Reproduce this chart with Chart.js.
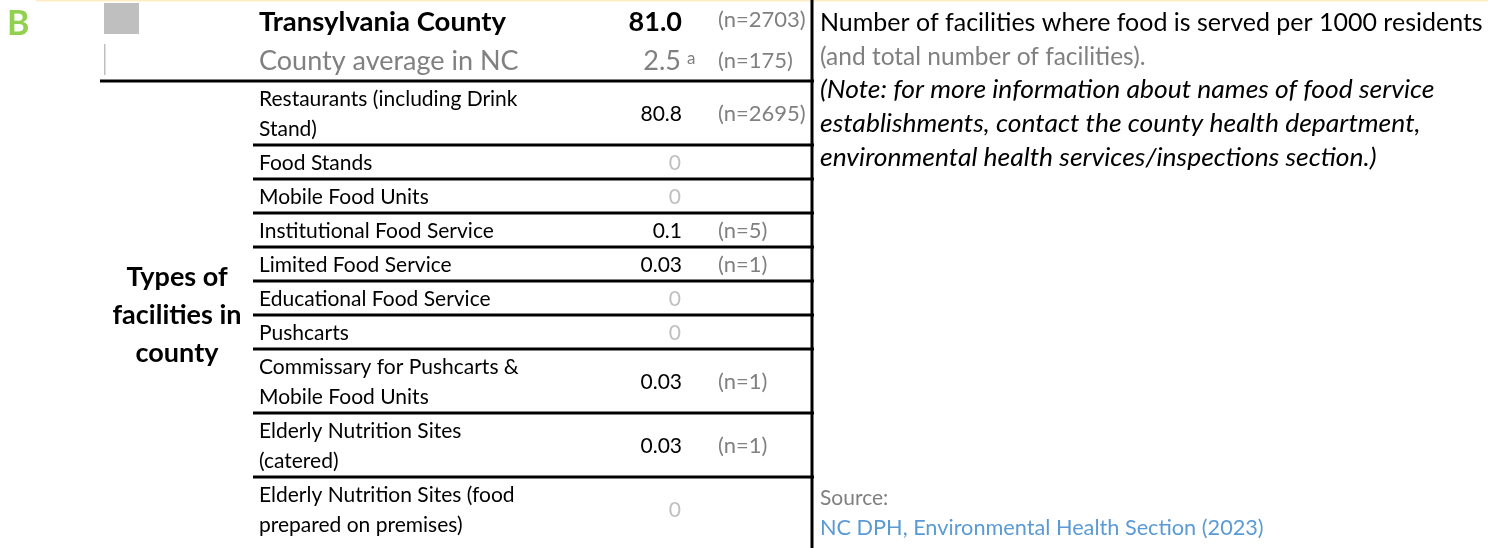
<!DOCTYPE html>
<html>
<head>
<meta charset="utf-8">
<script src="https://cdn.jsdelivr.net/npm/chart.js@4.4.0/dist/chart.umd.min.js"></script>
<style>
html, body { margin: 0; padding: 0; background: #fff; }
#wrap { position: relative; width: 1488px; height: 548px; }
</style>
</head>
<body>
<div id="wrap"><canvas id="myChart"></canvas></div>
<script>
// header rows
var countyName = 'Transylvania County';
var countyRate = 81.0;
var countyCount = 2703;
var ncLabel = 'County average in NC';
var ncRate = 2.5;
var ncCount = 175;
var ncNote = 'a';

// facility rows (label lines, rate per 1000, number of facilities)
var facilityTypes = [
  ['Restaurants (including Drink', 'Stand)'],
  ['Food Stands'],
  ['Mobile Food Units'],
  ['Institutional Food Service'],
  ['Limited Food Service'],
  ['Educational Food Service'],
  ['Pushcarts'],
  ['Commissary for Pushcarts &', 'Mobile Food Units'],
  ['Elderly Nutrition Sites', '(catered)'],
  ['Elderly Nutrition Sites (food', 'prepared on premises)']
];
var facilityRates = [80.8, 0, 0, 0.1, 0.03, 0, 0, 0.03, 0.03, 0];
var facilityCounts = [2695, 0, 0, 5, 1, 0, 0, 1, 1, 0];

var groupLabel = ['Types of', 'facilities in', 'county'];
var panelLetter = 'B';
var descLines = ['Number of facilities where food is served per 1000 residents', '(and total number of facilities).'];
var noteLines = ['(Note: for more information about names of food service', 'establishments, contact the county health department,', 'environmental health services/inspections section.)'];
var sourceLabel = 'Source:';
var sourceText = 'NC DPH, Environmental Health Section (2023)';

var FONT = 'Lato, "Open Sans", sans-serif';
var BIG = 27, REG = 21, NSIZE = 22, DESC = 24.5;
var HEAD_H = 40.5, ROW1 = 34, ROW2 = 64;

// row boundaries on the y scale, from the number of label lines
var bounds = [0, HEAD_H, HEAD_H * 2];
facilityTypes.forEach(function(t) {
  bounds.push(bounds[bounds.length - 1] + (t.length > 1 ? ROW2 : ROW1));
});
var rowCenters = [];
for (var i = 0; i < bounds.length - 1; i++) rowCenters.push((bounds[i] + bounds[i + 1]) / 2);

var COL_LABEL = 259, COL_VALUE = 682, COL_N = 718, COL_DIV = 812, COL_NOTE = 820;

function fmt(v) { return String(v); }

function txt(ctx, s, x, cy, size, opts) {
  opts = opts || {};
  ctx.save();
  ctx.font = (opts.italic ? 'italic ' : '') + (opts.bold ? 'bold ' : '') + size + 'px ' + FONT;
  ctx.fillStyle = opts.color || '#000';
  ctx.textAlign = opts.align || 'left';
  ctx.textBaseline = 'alphabetic';
  ctx.translate(x, cy + size * 0.36);
  if (opts.sx) ctx.scale(opts.sx, 1);
  ctx.fillText(s, 0, 0);
  ctx.restore();
}

var tablePlugin = {
  id: 'table',
  afterDatasetsDraw: function(chart) {
    var ctx = chart.ctx;
    var xs = chart.scales.x, ys = chart.scales.y;
    var X = function(v) { return xs.getPixelForValue(v); };
    var Y = function(v) { return ys.getPixelForValue(v); };
    ctx.save();

    // faint top border
    ctx.fillStyle = '#fdedc4';
    ctx.fillRect(X(36), Y(0), X(1488) - X(36), 1.5);

    // panel letter
    txt(ctx, panelLetter, X(7), Y(23), 34, { bold: true, color: '#92d050' });

    // legend swatch and thin marker
    ctx.fillStyle = '#bfbfbf';
    ctx.fillRect(X(104), Y(3), 35, 31);
    ctx.fillRect(X(104), Y(44), 1.5, 31);

    // header rows
    txt(ctx, countyName, X(COL_LABEL), Y(rowCenters[0]) + 1, BIG + 0.5, { bold: true });
    txt(ctx, countyRate.toFixed(1), X(COL_VALUE), Y(rowCenters[0]) + 1, BIG, { bold: true, align: 'right' });
    txt(ctx, '(n=' + countyCount + ')', X(COL_N), Y(rowCenters[0]) - 1, NSIZE, { color: '#808080' });
    txt(ctx, ncLabel, X(COL_LABEL), Y(rowCenters[1]), BIG, { color: '#808080' });
    txt(ctx, fmt(ncRate), X(COL_VALUE - 1), Y(rowCenters[1]), BIG, { color: '#808080', align: 'right' });
    txt(ctx, ncNote, X(COL_VALUE + 5), Y(rowCenters[1]) - 3, 17, { color: '#808080' });
    txt(ctx, '(n=' + ncCount + ')', X(COL_N), Y(rowCenters[1]) - 1, NSIZE, { color: '#808080' });

    // rules
    ctx.fillStyle = '#000';
    ctx.fillRect(X(100), Y(bounds[2]) - 1.5, X(COL_DIV + 2) - X(100), 3);
    for (var r = 3; r < bounds.length - 1; r++) {
      ctx.fillRect(X(253), Y(bounds[r]) - 1.5, X(COL_DIV + 2) - X(253), 3);
    }
    ctx.fillRect(X(COL_DIV) - 1.5, Y(0), 3, Y(548) - Y(0));

    // facility rows, positioned by the dataset points
    var meta = chart.getDatasetMeta(0);
    facilityTypes.forEach(function(lines, i) {
      var pt = meta.data[i];
      var cy = pt.y;
      var lh = 30;
      lines.forEach(function(l, k) {
        txt(ctx, l, X(COL_LABEL), cy + (k - (lines.length - 1) / 2) * lh, REG);
      });
      var v = facilityRates[i];
      if (v === 0) {
        txt(ctx, '0', pt.x - 1, cy, REG, { color: '#c0c0c0', align: 'right' });
      } else {
        txt(ctx, fmt(v), pt.x, cy, REG, { align: 'right' });
        txt(ctx, '(n=' + facilityCounts[i] + ')', X(COL_N), cy, NSIZE, { color: '#808080' });
      }
    });

    // group label, centred on the facility rows
    var gc = (Y(bounds[2]) + Y(548)) / 2;
    groupLabel.forEach(function(l, k) {
      txt(ctx, l, X(177), gc + (k - 1) * 38, BIG, { bold: true, align: 'center' });
    });

    // description on the right
    txt(ctx, descLines[0], X(COL_NOTE), Y(22), DESC, { sx: 1.02 });
    txt(ctx, descLines[1], X(COL_NOTE), Y(56), DESC, { color: '#808080' });
    noteLines.forEach(function(l, k) {
      txt(ctx, l, X(COL_NOTE), Y(89 + k * 34), DESC, { italic: true, sx: 1.08 });
    });
    txt(ctx, sourceLabel, X(COL_NOTE), Y(497), REG, { color: '#808080' });
    txt(ctx, sourceText, X(COL_NOTE), Y(527), 21.7, { color: '#5b9bd5' });

    ctx.restore();
  }
};

var ctx = document.getElementById('myChart').getContext('2d');
var myChart = new Chart(ctx, {
  type: 'scatter',
  data: {
    datasets: [{
      label: 'Facilities per 1000 residents',
      data: facilityRates.map(function(v, i) { return { x: COL_VALUE, y: rowCenters[i + 2] }; }),
      pointRadius: 0,
      pointHoverRadius: 0
    }]
  },
  options: {
    responsive: true,
    maintainAspectRatio: false,
    animation: false,
    layout: { padding: 0 },
    plugins: { legend: { display: false }, tooltip: { enabled: false } },
    scales: {
      x: { type: 'linear', min: 0, max: 1488, display: false },
      y: { type: 'linear', min: 0, max: 548, reverse: true, display: false }
    }
  },
  plugins: [tablePlugin]
});
</script>
</body>
</html>
